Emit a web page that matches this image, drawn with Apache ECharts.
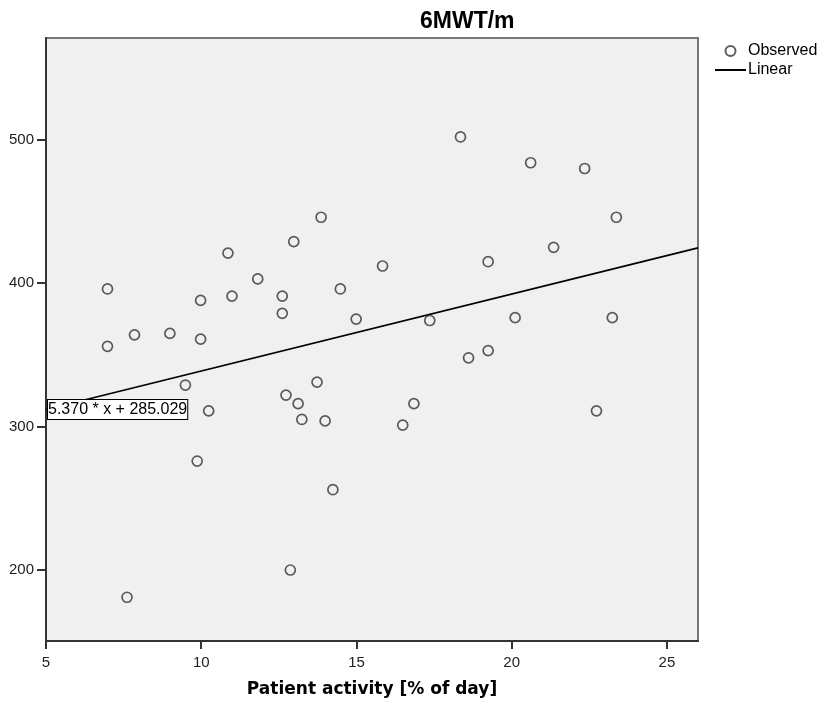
<!DOCTYPE html>
<html>
<head>
<meta charset="utf-8">
<script src="https://cdn.jsdelivr.net/npm/echarts@6/dist/echarts.min.js"></script>
<style>html,body{margin:0;padding:0;background:#fff}#c{width:825px;height:712px}</style>
</head>
<body>
<div id="c"></div>
<script>
// Observed points: patient activity [% of day] and 6MWT [m]
const activity = [6.98, 6.98, 7.85, 8.99, 9.98, 9.98, 10.86, 10.99, 11.82, 12.61, 12.61, 12.98, 13.86, 14.48, 14.99, 15.84,
  9.49, 10.24, 12.73, 13.12, 13.24, 13.73, 13.99, 16.49, 16.85, 23.37, 21.35, 19.24, 17.36, 20.11, 23.24, 18.61, 19.24, 22.73,
  9.87, 14.24, 12.87, 7.61, 18.35, 20.61, 22.35];
const walk6m = [396, 356, 364, 365, 388, 361, 421, 391, 403, 391, 379, 429, 446, 396, 375, 412,
  329, 311, 322, 316, 305, 331, 304, 301, 316, 446, 425, 415, 374, 376, 376, 348, 353, 311,
  276, 256, 200, 181, 502, 484, 480];
// Linear fit: y = slope * x + intercept
const slope = 5.370;
const intercept = 285.029;
const xTicks = [5, 10, 15, 20, 25];
const yTicks = [200, 300, 400, 500];
const xMin = 5, xMax = 26, yMin = 150.5, yMax = 571;

const points = activity.map((x, i) => [x, walk6m[i]]);
const fitLine = [[xMin, slope * xMin + intercept], [xMax, slope * xMax + intercept]];

const chart = echarts.init(document.getElementById('c'));
const font = 'Liberation Sans, Arial, sans-serif';
chart.setOption({
  animation: false,
  textStyle: { fontFamily: font },
  title: {
    text: '6MWT/m', left: 415, top: 5,
    textStyle: { fontFamily: font, fontWeight: 'bold', fontSize: 23, color: '#000' }
  },
  legend: {
    orient: 'vertical', left: 710, top: 38, itemWidth: 31, itemHeight: 10, itemGap: 3,
    textStyle: { fontFamily: font, fontSize: 16, color: '#000', padding: [0, 0, 0, -3] },
    data: [
      { name: 'Observed' },
      { name: 'Linear', icon: 'path://M0,0H31V2H0Z', itemStyle: { color: '#000', borderWidth: 0 } }
    ]
  },
  grid: {
    left: 46, right: 127, top: 38, bottom: 71,
    show: true, backgroundColor: '#f0f0f0', borderColor: '#777', borderWidth: 2
  },
  xAxis: {
    type: 'value', min: xMin, max: xMax,
    name: 'Patient activity [% of day]', nameLocation: 'middle', nameGap: 40,
    nameTextStyle: { fontFamily: 'DejaVu Sans', fontWeight: 'bold', fontSize: 17, color: '#000' },
    axisLine: { show: true, lineStyle: { color: '#333', width: 2 } },
    axisTick: { show: true, length: 8, lineStyle: { color: '#333', width: 2 }, customValues: xTicks },
    axisLabel: { fontSize: 15, color: '#222', margin: 14, customValues: xTicks },
    splitLine: { show: false }
  },
  yAxis: {
    type: 'value', min: yMin, max: yMax,
    axisLine: { show: true, lineStyle: { color: '#333', width: 2 } },
    axisTick: { show: true, length: 9, lineStyle: { color: '#333', width: 2 }, customValues: yTicks },
    axisLabel: { fontSize: 15, color: '#222', margin: 12, customValues: yTicks },
    splitLine: { show: false }
  },
  series: [
    {
      name: 'Observed', type: 'scatter', data: points, symbol: 'circle', symbolSize: 10,
      itemStyle: { color: 'rgba(240,240,240,0)', borderColor: '#333', borderWidth: 1.7 },
      z: 3
    },
    {
      name: 'Linear', type: 'line', data: fitLine, symbol: 'none', showSymbol: false,
      lineStyle: { color: '#000', width: 1.6 }, itemStyle: { color: '#000' }, z: 2,
      markPoint: {
        symbol: 'rect', symbolSize: 0,
        data: [{ coord: fitLine[0] }],
        label: {
          show: true, position: 'right', distance: 2,
          formatter: slope.toFixed(3) + ' * x + ' + intercept.toFixed(3),
          backgroundColor: '#fff', borderColor: '#000', borderWidth: 1, padding: [2, 0, 1, 0],
          fontFamily: font, fontSize: 16, color: '#000'
        }
      }
    }
  ]
});
</script>
</body>
</html>
